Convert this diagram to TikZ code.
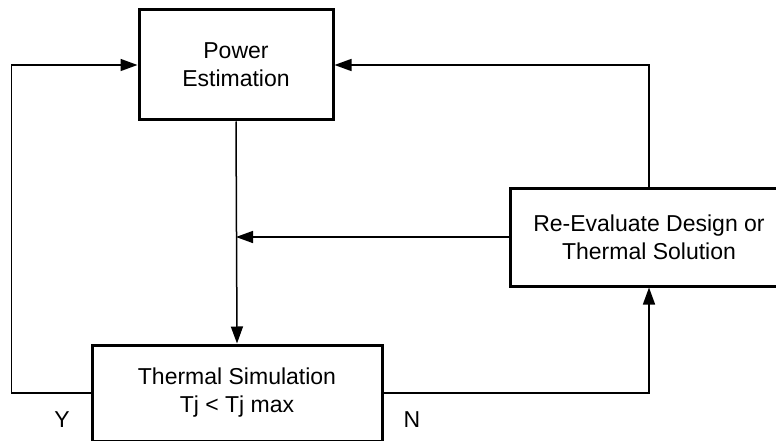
\documentclass[tikz,border=0pt]{standalone}
\usepackage{fontspec}
\setmainfont{Liberation Sans}
\usetikzlibrary{arrows.meta}
\tikzset{
	block/.style={
		rectangle,
		draw=black,
		line width=3pt,
		align=center,
		inner sep=0pt,
		font=\fontsize{23}{28}\selectfont,
	},
	tag/.style={
		inner sep=0pt,
		font=\fontsize{23}{28}\selectfont,
	},
	arrow/.style={
		-{Triangle[length=17pt,width=12pt]},
		line width=1.5pt,
	},
}

\begin{document}
\begin{tikzpicture}[x=1pt,y=1pt]
	\clip (0,0) rectangle (776,440);

	% Blocks
	\node[block, minimum width=194pt, minimum height=110pt] (pwr) at (236,375) {Power\\Estimation};
	\node[block, minimum width=290pt, minimum height=96pt] (sim) at (237,47) {Thermal Simulation\\Tj < Tj max};
	\node[block, minimum width=278pt, minimum height=98pt] (reval) at (649,203) {Re-Evaluate Design or\\Thermal Solution};

	% Decision labels
	\node[tag] (yes) at (62,20) {Y};
	\node[tag] (no) at (412,20) {N};

	% Connectors
	\draw[arrow] (pwr.south) -- (sim.north);
	\draw[arrow] (reval.west) -- (pwr.south |- reval.west);
	\draw[arrow] (sim.west) -- ++(-79,0) |- (pwr.west);
	\draw[arrow] (sim.east) -| (reval.south);
	\draw[arrow] (reval.north) |- (pwr.east);
\end{tikzpicture}
\end{document}
